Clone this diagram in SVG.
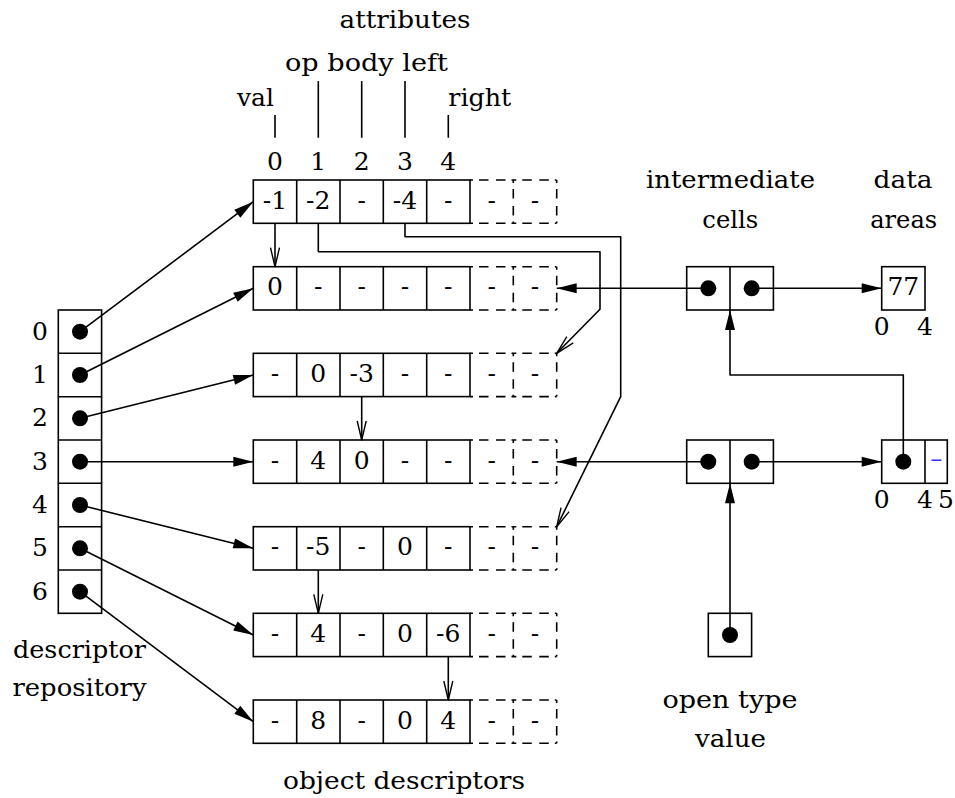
<svg xmlns="http://www.w3.org/2000/svg" xmlns:xlink="http://www.w3.org/1999/xlink" width="955" height="798" viewBox="0 0 955 798">
<style>
  .s{fill:none;stroke:#000;stroke-width:1.6}
  .d{fill:none;stroke:#000;stroke-width:1.6;stroke-dasharray:3 6 9.5 7.5 9.5 6 1.8}
  .w{fill:none;stroke:#000;stroke-width:1.6;stroke-linejoin:round}
  .fa{marker-end:url(#fa)}
  .oa{marker-end:url(#oa)}
  .m{text-anchor:middle}
  .dot{fill:#000}
  text{font-family:"DejaVu Serif","Liberation Serif",serif}
</style>
<defs>
  <marker id="fa" markerWidth="20" markerHeight="10" refX="20" refY="5" orient="auto" markerUnits="userSpaceOnUse" overflow="visible">
    <path d="M0,0 L20,5 L0,10 z" fill="#000"/>
  </marker>
  <marker id="oa" markerWidth="20" markerHeight="10" refX="20" refY="5" orient="auto" markerUnits="userSpaceOnUse" overflow="visible">
    <path d="M1,0.5 L20,5 L1,9.5" fill="none" stroke="#000" stroke-width="1.4" stroke-linejoin="round"/>
  </marker>
  <g id="rowframe">
    <rect class="s" x="253.3" y="0" width="216.7" height="43.3"/>
    <path class="s" d="M296.7,0V43.3M340,0V43.3M383.3,0V43.3M426.7,0V43.3"/>
    <path class="d" d="M470,0H513.3M513.3,0H556.7M470,43.3H513.3M513.3,43.3H556.7M513.3,0V43.3M556.7,0V43.3"/>
  </g>
</defs>
<rect width="955" height="798" fill="#fff"/>

<g font-family="DejaVu Serif" font-size="25" fill="#000">
<!-- attribute labels -->
<g id="attributes">
  <text class="m" x="405" y="28" textLength="131" lengthAdjust="spacingAndGlyphs">attributes</text>
  <text x="285" y="71" textLength="163" lengthAdjust="spacingAndGlyphs">op body left</text>
  <text x="274" y="106" text-anchor="end" textLength="37" lengthAdjust="spacingAndGlyphs">val</text>
  <text x="448.3" y="106" textLength="63" lengthAdjust="spacingAndGlyphs">right</text>
  <path class="s" d="M275,115V137.7M318.3,81V137.7M361.7,81V137.7M405,81V137.7M448.3,115V137.7"/>
  <text class="m" x="275" y="170">0</text>
  <text class="m" x="318.3" y="170">1</text>
  <text class="m" x="361.7" y="170">2</text>
  <text class="m" x="405" y="170">3</text>
  <text class="m" x="448.3" y="170">4</text>
</g>

<!-- connectors -->
<g id="connectors">
  <line class="s fa" x1="80" y1="331.7" x2="253.3" y2="201.7"/>
  <line class="s fa" x1="80" y1="375" x2="253.3" y2="288.3"/>
  <line class="s fa" x1="80" y1="418.3" x2="253.3" y2="375"/>
  <line class="s fa" x1="80" y1="461.7" x2="253.3" y2="461.7"/>
  <line class="s fa" x1="80" y1="505" x2="253.3" y2="548.3"/>
  <line class="s fa" x1="80" y1="548.3" x2="253.3" y2="635"/>
  <line class="s fa" x1="80" y1="591.7" x2="253.3" y2="721.7"/>

  <path class="w oa" d="M275,223.3V266.7"/>
  <path class="w oa" d="M318.3,223.3V251.7H600V309.3L556.7,353.3"/>
  <path class="w oa" d="M405,223.3V236.7H620.7V396.7L556.7,526.7"/>
  <path class="w oa" d="M361.7,396.7V440"/>
  <path class="w oa" d="M318.3,570V613.3"/>
  <path class="w oa" d="M448.3,656.7V700"/>

  <line class="s fa" x1="708.3" y1="288.3" x2="556.7" y2="288.3"/>
  <line class="s fa" x1="751.7" y1="288.3" x2="881.7" y2="288.3"/>
  <line class="s fa" x1="708.3" y1="461.7" x2="556.7" y2="461.7"/>
  <line class="s fa" x1="751.7" y1="461.7" x2="881.7" y2="461.7"/>
  <path class="w fa" d="M903.3,461.7V375H730V310"/>
  <path class="w fa" d="M730,635V483.3"/>
</g>

<!-- descriptor repository -->
<g id="repository">
  <rect class="s" x="58.3" y="310" width="43.3" height="303.3"/>
  <path class="s" d="M58.3,353.3H101.7M58.3,396.7H101.7M58.3,440H101.7M58.3,483.3H101.7M58.3,526.7H101.7M58.3,570H101.7"/>
  <circle class="dot" cx="80" cy="331.7" r="8"/>
  <circle class="dot" cx="80" cy="375" r="8"/>
  <circle class="dot" cx="80" cy="418.3" r="8"/>
  <circle class="dot" cx="80" cy="461.7" r="8"/>
  <circle class="dot" cx="80" cy="505" r="8"/>
  <circle class="dot" cx="80" cy="548.3" r="8"/>
  <circle class="dot" cx="80" cy="591.7" r="8"/>
  <text class="m" x="40" y="339.7">0</text>
  <text class="m" x="40" y="383">1</text>
  <text class="m" x="40" y="426.3">2</text>
  <text class="m" x="40" y="469.7">3</text>
  <text class="m" x="40" y="513">4</text>
  <text class="m" x="40" y="556.3">5</text>
  <text class="m" x="40" y="599.7">6</text>
  <text class="m" x="79.5" y="658" textLength="133" lengthAdjust="spacingAndGlyphs">descriptor</text>
  <text class="m" x="79.5" y="696" textLength="134" lengthAdjust="spacingAndGlyphs">repository</text>
</g>

<!-- object descriptors -->
<g id="od0">
  <use xlink:href="#rowframe" y="180"/>
  <text class="m" x="275" y="208.5">-1</text><text class="m" x="318.3" y="208.5">-2</text><text class="m" x="361.7" y="208.5">-</text><text class="m" x="405" y="208.5">-4</text><text class="m" x="448.3" y="208.5">-</text><text class="m" x="491.7" y="208.5">-</text><text class="m" x="535" y="208.5">-</text>
</g>
<g id="od1">
  <use xlink:href="#rowframe" y="266.7"/>
  <text class="m" x="275" y="295.2">0</text><text class="m" x="318.3" y="295.2">-</text><text class="m" x="361.7" y="295.2">-</text><text class="m" x="405" y="295.2">-</text><text class="m" x="448.3" y="295.2">-</text><text class="m" x="491.7" y="295.2">-</text><text class="m" x="535" y="295.2">-</text>
</g>
<g id="od2">
  <use xlink:href="#rowframe" y="353.3"/>
  <text class="m" x="275" y="381.8">-</text><text class="m" x="318.3" y="381.8">0</text><text class="m" x="361.7" y="381.8">-3</text><text class="m" x="405" y="381.8">-</text><text class="m" x="448.3" y="381.8">-</text><text class="m" x="491.7" y="381.8">-</text><text class="m" x="535" y="381.8">-</text>
</g>
<g id="od3">
  <use xlink:href="#rowframe" y="440"/>
  <text class="m" x="275" y="468.5">-</text><text class="m" x="318.3" y="468.5">4</text><text class="m" x="361.7" y="468.5">0</text><text class="m" x="405" y="468.5">-</text><text class="m" x="448.3" y="468.5">-</text><text class="m" x="491.7" y="468.5">-</text><text class="m" x="535" y="468.5">-</text>
</g>
<g id="od4">
  <use xlink:href="#rowframe" y="526.7"/>
  <text class="m" x="275" y="555.2">-</text><text class="m" x="318.3" y="555.2">-5</text><text class="m" x="361.7" y="555.2">-</text><text class="m" x="405" y="555.2">0</text><text class="m" x="448.3" y="555.2">-</text><text class="m" x="491.7" y="555.2">-</text><text class="m" x="535" y="555.2">-</text>
</g>
<g id="od5">
  <use xlink:href="#rowframe" y="613.3"/>
  <text class="m" x="275" y="641.8">-</text><text class="m" x="318.3" y="641.8">4</text><text class="m" x="361.7" y="641.8">-</text><text class="m" x="405" y="641.8">0</text><text class="m" x="448.3" y="641.8">-6</text><text class="m" x="491.7" y="641.8">-</text><text class="m" x="535" y="641.8">-</text>
</g>
<g id="od6">
  <use xlink:href="#rowframe" y="700"/>
  <text class="m" x="275" y="728.5">-</text><text class="m" x="318.3" y="728.5">8</text><text class="m" x="361.7" y="728.5">-</text><text class="m" x="405" y="728.5">0</text><text class="m" x="448.3" y="728.5">4</text><text class="m" x="491.7" y="728.5">-</text><text class="m" x="535" y="728.5">-</text>
</g>
<g id="od-label">
  <text class="m" x="404" y="789" textLength="242" lengthAdjust="spacingAndGlyphs">object descriptors</text>
</g>

<!-- intermediate cells -->
<g id="intermediate-label">
  <text class="m" x="730.5" y="188.3" textLength="169" lengthAdjust="spacingAndGlyphs">intermediate</text>
  <text class="m" x="730.3" y="228.3" textLength="56" lengthAdjust="spacingAndGlyphs">cells</text>
</g>
<g id="ic1">
  <rect class="s" x="686.7" y="266.7" width="86.7" height="43.3"/>
  <path class="s" d="M730,266.7V310"/>
  <circle class="dot" cx="708.3" cy="288.3" r="8"/>
  <circle class="dot" cx="751.7" cy="288.3" r="8"/>
</g>
<g id="ic2">
  <rect class="s" x="686.7" y="440" width="86.7" height="43.3"/>
  <path class="s" d="M730,440V483.3"/>
  <circle class="dot" cx="708.3" cy="461.7" r="8"/>
  <circle class="dot" cx="751.7" cy="461.7" r="8"/>
</g>

<!-- data areas -->
<g id="data-label">
  <text class="m" x="903" y="188.3" textLength="59" lengthAdjust="spacingAndGlyphs">data</text>
  <text class="m" x="903.7" y="228.3" textLength="67" lengthAdjust="spacingAndGlyphs">areas</text>
</g>
<g id="da1">
  <rect class="s" x="881.7" y="266.7" width="43.3" height="43.3"/>
  <text class="m" x="903.3" y="295.2">77</text>
  <text class="m" x="881.7" y="335">0</text>
  <text class="m" x="925" y="335">4</text>
</g>
<g id="da2">
  <rect class="s" x="881.7" y="440" width="65.6" height="43.3"/>
  <path class="s" d="M925,440V483.3"/>
  <circle class="dot" cx="903.3" cy="461.7" r="8"/>
  <text class="m" x="936.2" y="467" font-size="24" fill="#3333ff">–</text>
  <text class="m" x="881.7" y="508.3">0</text>
  <text class="m" x="925" y="508.3">4</text>
  <text class="m" x="946" y="508.3">5</text>
</g>

<!-- open type value -->
<g id="otv">
  <rect class="s" x="708.3" y="613.3" width="43.3" height="43.3"/>
  <circle class="dot" cx="730" cy="635" r="8"/>
  <text class="m" x="730" y="708.3" textLength="135" lengthAdjust="spacingAndGlyphs">open type</text>
  <text class="m" x="730.5" y="746.7" textLength="71" lengthAdjust="spacingAndGlyphs">value</text>
</g>
</g>
</svg>
